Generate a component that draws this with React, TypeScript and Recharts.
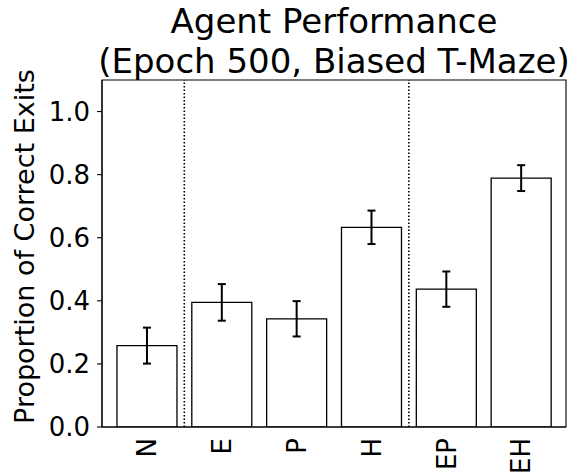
import React from 'react';
import { BarChart, Bar, XAxis, YAxis, ErrorBar, ReferenceLine, ReferenceArea } from 'recharts';

const categories = ['N', 'E', 'P', 'H', 'EP', 'EH'];
const means = [0.258, 0.395, 0.343, 0.633, 0.437, 0.789];
const errors = [0.057, 0.058, 0.056, 0.053, 0.056, 0.041];
const yTicks = [0, 0.2, 0.4, 0.6, 0.8, 1.0];
const dividerPositions = [0.5, 3.5];
const titleLines = ['Agent Performance', '(Epoch 500, Biased T-Maze)'];
const yLabel = 'Proportion of Correct Exits';

const data = categories.map((c, i) => ({ name: c, idx: i, value: means[i], err: errors[i] }));

const FONT = '"DejaVu Sans", sans-serif';
const W = 573;
const H = 472;
const M = { top: 80, right: 7, bottom: 0, left: 0 };
const Y_W = 102;
const X_H = 45;
const plotW = W - M.left - M.right - Y_W;
const unit = plotW / 6.2;
const pad = unit * 0.1;
const plotTop = M.top;
const plotBottom = H - X_H;
const plotCx = Y_W + plotW / 2;
const TITLE_FS = 34;
const LABEL_X = 34;

const XTick = (props: any) => {
  const { x, y, payload } = props;
  return (
    <text
      x={x}
      y={y}
      transform={`rotate(-90 ${x} ${y})`}
      textAnchor="end"
      dy="0.36em"
      fontSize={26}
      fontFamily={FONT}
      fill="#000"
    >
      {payload.value}
    </text>
  );
};

export default function App() {
  const midY = (plotTop + plotBottom) / 2 - 7;
  return (
    <div style={{ position: 'absolute', left: 0, top: 0, width: W, height: H, background: '#fff' }}>
      <BarChart width={W} height={H} data={data} margin={M} barCategoryGap="10%">
        <XAxis
          dataKey="name"
          padding={{ left: pad, right: pad }}
          tickLine={false}
          tickSize={0}
          tickMargin={11}
          height={X_H}
          axisLine={{ stroke: '#000', strokeWidth: 1.1 }}
          tick={<XTick />}
          interval={0}
        />
        <XAxis xAxisId="num" type="number" dataKey="idx" domain={[-0.6, 5.6]} allowDataOverflow hide />
        <YAxis
          domain={[0, 1.1]}
          ticks={yTicks}
          allowDataOverflow
          width={Y_W}
          tickSize={5}
          tickMargin={7}
          tickFormatter={(v: number) => v.toFixed(1)}
          tick={{ fontSize: 26, fontFamily: FONT, fill: '#000' }}
          axisLine={{ stroke: '#000', strokeWidth: 1.1 }}
          tickLine={{ stroke: '#000', strokeWidth: 1.1 }}
        />
        <ReferenceArea
          xAxisId="num"
          x1={-0.6}
          x2={5.6}
          y1={0}
          y2={1.1}
          fill="none"
          fillOpacity={0}
          stroke="#000"
          strokeWidth={1.1}
        />
        {dividerPositions.map((p) => (
          <ReferenceLine
            key={p}
            xAxisId="num"
            x={p}
            stroke="#000"
            strokeWidth={1.6}
            strokeDasharray="1.5 2"
          />
        ))}
        <Bar dataKey="value" fill="#fff" stroke="#000" strokeWidth={1.3} isAnimationActive={false}>
          <ErrorBar dataKey="err" width={4} stroke="#000" strokeWidth={2} direction="y" />
        </Bar>
      </BarChart>
      <svg
        width={W}
        height={H}
        style={{ position: 'absolute', left: 0, top: 0, pointerEvents: 'none' }}
      >
        {titleLines.map((t, i) => (
          <text
            key={i}
            x={plotCx}
            y={32.5 + i * 40}
            textAnchor="middle"
            fontSize={TITLE_FS}
            fontFamily={FONT}
            fill="#000"
          >
            {t}
          </text>
        ))}
        <text
          x={LABEL_X}
          y={midY}
          transform={`rotate(-90 ${LABEL_X} ${midY})`}
          textAnchor="middle"
          fontSize={27}
          fontFamily={FONT}
          fill="#000"
        >
          {yLabel}
        </text>
      </svg>
    </div>
  );
}
